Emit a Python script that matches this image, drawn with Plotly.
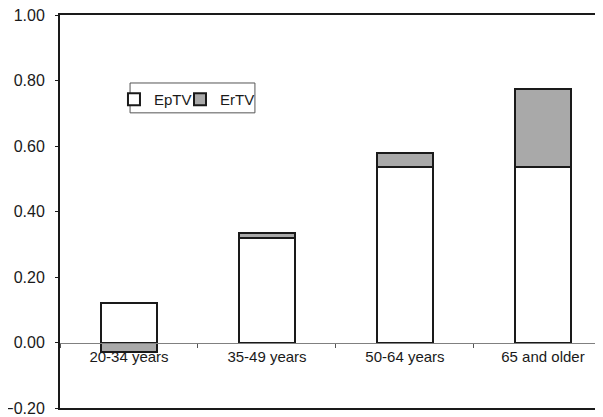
import plotly.graph_objects as go

# dados
categorias = ["20-34 years", "35-49 years", "50-64 years", "65 and older"]
eptv = [0.12, 0.32, 0.535, 0.535]
ertv = [-0.03, 0.015, 0.045, 0.238]
y_ticks = [-0.2, 0.0, 0.2, 0.4, 0.6, 0.8, 1.0]

FONTE = "Liberation Sans, Arial, sans-serif"

fig = go.Figure()
fig.add_trace(go.Bar(
    x=categorias, y=eptv, name="EpTV", legend="legend",
    marker=dict(color="#ffffff", line=dict(color="#1a1a1a", width=2)),
    width=0.406,
))
fig.add_trace(go.Bar(
    x=categorias, y=ertv, name="ErTV", legend="legend2",
    marker=dict(color="#a9a9a9", line=dict(color="#1a1a1a", width=2)),
    width=0.406,
))
# traço invisível só para o eixo x2 (moldura) ser desenhado
fig.add_trace(go.Scatter(
    x=categorias, y=eptv, xaxis="x2", mode="markers",
    marker=dict(opacity=0), showlegend=False, hoverinfo="skip",
))

# caixa da legenda (as duas legendas ficam lado a lado dentro dela)
fig.add_shape(type="rect", xref="paper", yref="paper",
              x0=0.129, x1=0.359, y0=0.751, y1=0.827,
              line=dict(color="#555555", width=1), fillcolor="rgba(0,0,0,0)")

leg = dict(orientation="h", y=0.827, xanchor="left", yanchor="top",
           borderwidth=0, bgcolor="rgba(0,0,0,0)", font=dict(size=15),
           itemwidth=30)

# a página tem 8px de margem no body, por isso a figura é 595x409
fig.update_layout(
    template="none",
    barmode="relative",
    width=595, height=409,
    margin=dict(l=52, r=0, t=7, b=9, autoexpand=False),
    paper_bgcolor="white", plot_bgcolor="white",
    font=dict(family=FONTE, size=15, color="#1a1a1a"),
    showlegend=True,
    legend=dict(leg, x=0.0994),
    legend2=dict(leg, x=0.221),
    xaxis=dict(
        range=[-0.5, 3.435],
        anchor="free", position=0.2 / 1.2,
        showline=True, linecolor="#808080", linewidth=1,
        ticks="outside", tickson="boundaries", ticklen=4, tickcolor="#555555",
        showgrid=False, zeroline=False, automargin=False,
        tickfont=dict(size=15),
    ),
    # eixo auxiliar só para a moldura de cima e de baixo
    xaxis2=dict(
        overlaying="x", anchor="y", side="bottom", range=[-0.5, 3.435],
        showline=True, mirror=True, linecolor="#1a1a1a", linewidth=2,
        ticks="", showticklabels=False, showgrid=False, zeroline=False,
        automargin=False,
    ),
    yaxis=dict(
        range=[-0.2, 1.0], tickvals=y_ticks, tickformat=".2f",
        showline=True, linecolor="#1a1a1a", linewidth=2,
        ticks="outside", ticklen=3, tickcolor="#1a1a1a",
        showgrid=False, zeroline=False, automargin=False,
        tickfont=dict(size=16), ticklabeloverflow="allow",
        ticklabelstandoff=7,
    ),
    bargap=0.0,
)

fig.write_html("out.html")
